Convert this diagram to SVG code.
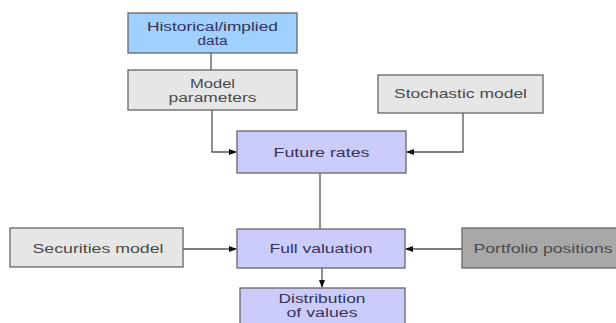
<svg xmlns="http://www.w3.org/2000/svg" width="616" height="323" viewBox="0 0 616 323">
<defs>
<style>
.box{stroke:#666;stroke-width:1.3}
.blue{fill:#9fd0ff}
.lav{fill:#ccccfa}
.gray{fill:#e6e6e6}
.dark{fill:#a8a8a8}
text{font-family:"Liberation Sans",Arial,sans-serif;font-size:13px;text-anchor:middle}
.two{font-size:12px}
.tb{fill:#34345a}
.tg{fill:#4a4a4a}
.conn{fill:none;stroke:#555;stroke-width:1.3}
</style>
<marker id="arr" markerWidth="8" markerHeight="6" refX="7" refY="3" orient="auto" markerUnits="userSpaceOnUse">
<path d="M0,0 L8,3 L0,6 Z" fill="#111"/>
</marker>
</defs>
<rect width="616" height="323" fill="#fff"/>
<g id="connectors">
<path class="conn" d="M211,53 V70"/>
<path class="conn" d="M212,110 V152 H236" marker-end="url(#arr)"/>
<path class="conn" d="M463,113 V152 H407" marker-end="url(#arr)"/>
<path class="conn" d="M320,173 V229"/>
<path class="conn" d="M183,249 H236" marker-end="url(#arr)"/>
<path class="conn" d="M462,249 H406" marker-end="url(#arr)"/>
<path class="conn" d="M322,268 V287" marker-end="url(#arr)"/>
</g>
<g id="historical">
<rect class="box blue" x="128" y="13" width="169" height="40"/>
<text class="tb two" x="212.5" y="30.5" textLength="131" lengthAdjust="spacingAndGlyphs">Historical/implied</text>
<text class="tb two" x="212.5" y="44.5" textLength="30" lengthAdjust="spacingAndGlyphs">data</text>
</g>
<g id="model-parameters">
<rect class="box gray" x="128" y="70" width="169" height="40"/>
<text class="tg two" x="212.5" y="87.5" textLength="45" lengthAdjust="spacingAndGlyphs">Model</text>
<text class="tg two" x="212.5" y="101.5" textLength="88" lengthAdjust="spacingAndGlyphs">parameters</text>
</g>
<g id="stochastic-model">
<rect class="box gray" x="378" y="75" width="165" height="38"/>
<text class="tg" x="460.5" y="98" textLength="133" lengthAdjust="spacingAndGlyphs">Stochastic model</text>
</g>
<g id="future-rates">
<rect class="box lav" x="237" y="131" width="169" height="42"/>
<text class="tb" x="321.5" y="156.5" textLength="96" lengthAdjust="spacingAndGlyphs">Future rates</text>
</g>
<g id="securities-model">
<rect class="box gray" x="10" y="228" width="173" height="39"/>
<text class="tg" x="98" y="252.5" textLength="131" lengthAdjust="spacingAndGlyphs">Securities model</text>
</g>
<g id="full-valuation">
<rect class="box lav" x="237" y="229" width="168" height="39"/>
<text class="tb" x="321" y="253" textLength="103" lengthAdjust="spacingAndGlyphs">Full valuation</text>
</g>
<g id="portfolio-positions">
<rect class="box dark" x="462" y="228" width="160" height="40"/>
<text class="tg" x="543" y="252.5" textLength="139" lengthAdjust="spacingAndGlyphs">Portfolio positions</text>
</g>
<g id="distribution">
<rect class="box lav" x="240" y="288" width="165" height="45"/>
<text class="tb two" x="322" y="302.5" textLength="87" lengthAdjust="spacingAndGlyphs">Distribution</text>
<text class="tb two" x="322" y="316.5" textLength="71" lengthAdjust="spacingAndGlyphs">of values</text>
</g>
</svg>
